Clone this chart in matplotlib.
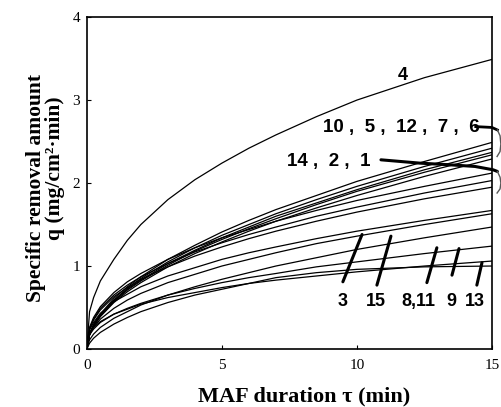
import numpy as np
import matplotlib
matplotlib.use("Agg")
import matplotlib.pyplot as plt

t = [0, 0.1, 0.25, 0.5, 1, 1.5, 2, 3, 4, 5, 6, 7, 8.5, 10, 12.5, 15]

# specific removal amount q (mg/cm2 min), one list per curve
q4 = [0, 0.45, 0.62, 0.82, 1.08, 1.31, 1.50, 1.80, 2.04, 2.24, 2.42, 2.58, 2.80, 3.00, 3.27, 3.49]

# upper bundle: 10, 5, 12, 7, 6
q10 = [0, 0.18, 0.30, 0.42, 0.61, 0.75, 0.87, 1.08, 1.25, 1.41, 1.55, 1.68, 1.85, 2.02, 2.26, 2.49]
q5 = [0, 0.18, 0.29, 0.41, 0.59, 0.73, 0.85, 1.05, 1.22, 1.37, 1.50, 1.63, 1.80, 1.96, 2.20, 2.42]
q12 = [0, 0.17, 0.28, 0.40, 0.58, 0.72, 0.83, 1.03, 1.19, 1.34, 1.47, 1.60, 1.76, 1.92, 2.16, 2.37]
q7 = [0, 0.17, 0.28, 0.40, 0.57, 0.71, 0.82, 1.01, 1.18, 1.32, 1.45, 1.57, 1.74, 1.90, 2.13, 2.34]
q6 = [0, 0.17, 0.27, 0.39, 0.56, 0.69, 0.80, 0.99, 1.15, 1.29, 1.42, 1.54, 1.70, 1.85, 2.08, 2.29]

# middle bundle: 14, 2, 1
q14 = [0, 0.26, 0.38, 0.51, 0.68, 0.81, 0.91, 1.08, 1.22, 1.34, 1.44, 1.54, 1.67, 1.79, 1.96, 2.12]
q2 = [0, 0.25, 0.36, 0.49, 0.65, 0.77, 0.87, 1.03, 1.17, 1.28, 1.38, 1.47, 1.60, 1.71, 1.88, 2.03]
q1 = [0, 0.24, 0.35, 0.47, 0.63, 0.74, 0.84, 0.99, 1.12, 1.23, 1.33, 1.42, 1.54, 1.65, 1.81, 1.95]

# lower bundle: 3, 15, 8, 11, 9, 13
q8 = [0, 0.23, 0.32, 0.43, 0.57, 0.66, 0.75, 0.88, 0.98, 1.08, 1.16, 1.23, 1.33, 1.42, 1.55, 1.67]
q11 = [0, 0.18, 0.26, 0.36, 0.49, 0.59, 0.67, 0.80, 0.90, 1.00, 1.08, 1.16, 1.27, 1.36, 1.50, 1.63]
q15 = [0, 0.11, 0.18, 0.26, 0.37, 0.45, 0.53, 0.65, 0.75, 0.84, 0.92, 1.00, 1.10, 1.20, 1.34, 1.47]
q9 = [0, 0.17, 0.24, 0.32, 0.42, 0.49, 0.55, 0.65, 0.73, 0.80, 0.86, 0.91, 0.99, 1.05, 1.15, 1.24]
q13 = [0, 0.20, 0.26, 0.33, 0.42, 0.48, 0.54, 0.62, 0.68, 0.74, 0.79, 0.83, 0.88, 0.93, 1.00, 1.06]
q3 = [0, 0.07, 0.13, 0.20, 0.30, 0.38, 0.45, 0.56, 0.65, 0.72, 0.79, 0.86, 0.92, 0.96, 0.99, 1.00]

curves = [q4, q10, q5, q12, q7, q6, q14, q2, q1, q8, q11, q15, q9, q13, q3]

# pointer strokes for the bottom labels (t0, t1, q0, q1) and label text
tick_labels = ["3", "15", "8,11", "9", "13"]
tick_t0 = [9.48, 10.74, 12.59, 13.52, 14.44]
tick_t1 = [10.19, 11.26, 12.96, 13.78, 14.63]
tick_q0 = [0.81, 0.77, 0.80, 0.89, 0.77]
tick_q1 = [1.38, 1.36, 1.22, 1.21, 1.04]
label_t = [9.48, 10.7, 12.26, 13.48, 14.37]

serif = "Liberation Serif"
sans = "Liberation Sans"

fig = plt.figure(figsize=(5.02, 4.07), dpi=100)
ax = fig.add_axes([0.173, 0.1425, 0.807, 0.8155])

for q in curves:
    ax.plot(t, q, color="k", lw=0.9)

ax.set_xlim(0, 15)
ax.set_ylim(0, 4)
ax.set_xticks([0, 5, 10, 15])
ax.set_yticks([0, 1, 2, 3, 4])
ax.tick_params(direction="in", length=3, width=0.8, labelsize=11)
ax.tick_params(axis="x", pad=7)
ax.tick_params(axis="y", pad=5)
for lab in ax.get_xticklabels() + ax.get_yticklabels():
    lab.set_fontfamily(serif)
for s in ax.spines.values():
    s.set_linewidth(1.2)

# axis titles
fig.text(304 / 502, 1 - 396 / 407, "MAF duration \u03c4 (min)", fontfamily=serif,
         fontweight="bold", fontsize=16, ha="center", va="center")
fig.text(36 / 502, 1 - 188 / 407, "Specific removal amount", fontfamily=serif,
         fontweight="bold", fontsize=15.5, rotation=90, ha="center", va="center")
fig.text(55 / 502, 1 - 168 / 407, "q (mg/cm\u00b2\u00b7min)", fontfamily=serif,
         fontweight="bold", fontsize=15.5, rotation=90, ha="center", va="center")

# curve labels
ax.text(11.7, 3.3, "4", fontfamily=sans, fontweight="bold", fontsize=13,
        ha="center", va="center")
ax.text(8.74, 2.67, "10 ,  5 ,  12 ,  7 ,  6", fontfamily=sans, fontweight="bold",
        fontsize=13.5, ha="left", va="center")
ax.text(7.4, 2.26, "14 ,  2 ,  1", fontfamily=sans, fontweight="bold",
        fontsize=13.5, ha="left", va="center")

# leader lines and brackets on the right
ax.plot([14.4, 15.0, 15.2], [2.68, 2.67, 2.64], color="k", lw=2.0, clip_on=False)
ax.plot([15.2, 15.3, 15.33, 15.3, 15.19], [2.64, 2.57, 2.47, 2.38, 2.32],
        color="0.35", lw=1.0, clip_on=False)
ax.plot([10.89, 12.33, 13.44, 14.37, 15.04, 15.2], [2.28, 2.24, 2.22, 2.20, 2.16, 2.14],
        color="k", lw=2.2, clip_on=False, solid_capstyle="round")
ax.plot([15.2, 15.3, 15.33, 15.3, 15.19], [2.14, 2.07, 2.0, 1.93, 1.88],
        color="0.35", lw=1.0, clip_on=False)

for lab, a0, a1, b0, b1, lt in zip(tick_labels, tick_t0, tick_t1, tick_q0, tick_q1, label_t):
    ax.plot([a0, a1], [b0, b1], color="k", lw=2.2, solid_capstyle="round")
    ax.text(lt, 0.57, lab, fontfamily=sans, fontweight="bold", fontsize=13,
            ha="center", va="center")

fig.savefig("out.png", dpi=100)
